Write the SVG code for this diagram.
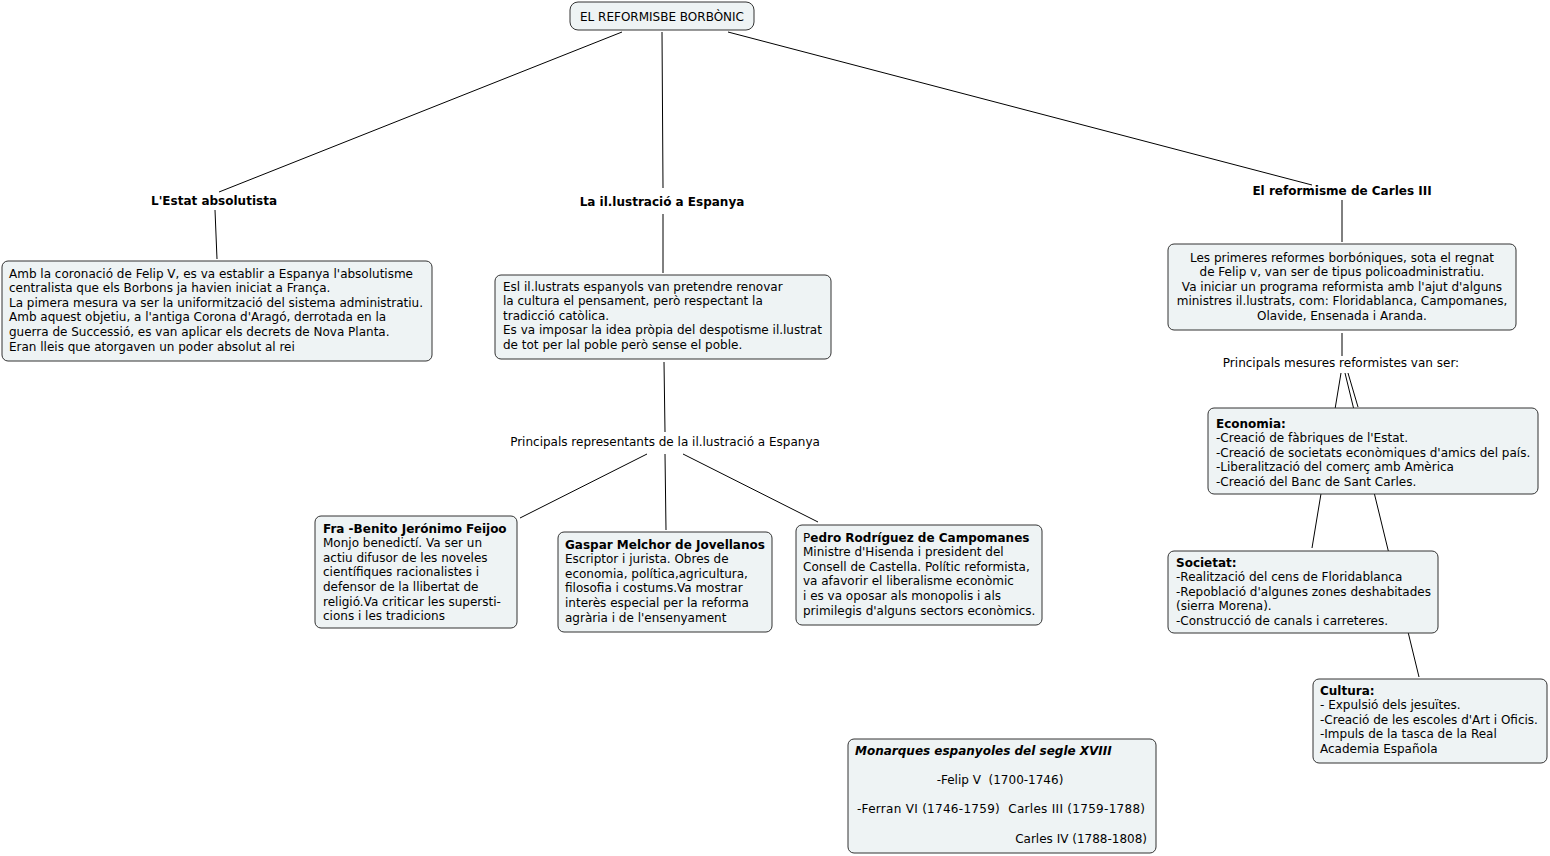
<svg xmlns="http://www.w3.org/2000/svg" width="1550" height="856" viewBox="0 0 1550 856">
<style>
.bg{fill:#ffffff}
.box{fill:#eef3f4;stroke:#333333;stroke-width:1}
.t{font-family:"DejaVu Sans","Verdana",sans-serif;font-size:12px;fill:#000}
.b{font-weight:bold}
.c{text-anchor:middle}
.ln{stroke:#000;stroke-width:1;fill:none}
</style>
<rect class="bg" x="0" y="0" width="1550" height="856"/>
<g id="connectors">
<line class="ln" x1="622" y1="32" x2="219" y2="192"/>
<line class="ln" x1="662" y1="32" x2="663" y2="188"/>
<line class="ln" x1="728" y1="32" x2="1312" y2="185"/>
<line class="ln" x1="215" y1="210" x2="217" y2="259"/>
<line class="ln" x1="663" y1="214" x2="663" y2="273"/>
<line class="ln" x1="664" y1="362" x2="665" y2="432"/>
<line class="ln" x1="647" y1="454" x2="520" y2="518"/>
<line class="ln" x1="665" y1="454" x2="666" y2="530"/>
<line class="ln" x1="683" y1="454" x2="818" y2="522"/>
<line class="ln" x1="1342" y1="200" x2="1342" y2="242"/>
<line class="ln" x1="1342" y1="333" x2="1342" y2="356"/>
<line class="ln" x1="1348" y1="373" x2="1358" y2="407"/>
<line class="ln" x1="1341" y1="373" x2="1312" y2="548"/>
<line class="ln" x1="1345" y1="373" x2="1419" y2="677"/>
</g>
<g id="n-top">
<rect class="box" x="570" y="2" width="184" height="28" rx="8"/>
<text class="t c" x="662" y="21">EL REFORMISBE BORBÒNIC</text>
</g>
<g id="n-estat">
<text class="t b c" x="214" y="205">L'Estat absolutista</text>
</g>
<g id="n-estat-box">
<rect class="box" x="2" y="261" width="430" height="100" rx="6"/>
<text class="t" x="9" y="277.5">Amb la coronació de Felip V, es va establir a Espanya l'absolutisme</text>
<text class="t" x="9" y="292.1">centralista que els Borbons ja havien iniciat a França.</text>
<text class="t" x="9" y="306.7">La pimera mesura va ser la uniformització del sistema administratiu.</text>
<text class="t" x="9" y="321.3">Amb aquest objetiu, a l'antiga Corona d'Aragó, derrotada en la</text>
<text class="t" x="9" y="335.9">guerra de Successió, es van aplicar els decrets de Nova Planta.</text>
<text class="t" x="9" y="350.5">Eran lleis que atorgaven un poder absolut al rei</text>
</g>
<g id="n-illus">
<text class="t b c" x="662" y="206">La il.lustració a Espanya</text>
</g>
<g id="n-illus-box">
<rect class="box" x="495" y="275" width="336" height="84" rx="6"/>
<text class="t" x="503" y="290.5">Esl il.lustrats espanyols van pretendre renovar</text>
<text class="t" x="503" y="305.1">la cultura el pensament, però respectant la</text>
<text class="t" x="503" y="319.7">tradicció catòlica.</text>
<text class="t" x="503" y="334.3">Es va imposar la idea pròpia del despotisme il.lustrat</text>
<text class="t" x="503" y="348.9">de tot per lal poble però sense el poble.</text>
</g>
<g id="n-repr">
<text class="t c" x="665" y="446">Principals representants de la il.lustració a Espanya</text>
</g>
<g id="n-feijoo">
<rect class="box" x="315" y="516" width="202" height="112" rx="6"/>
<text class="t b" x="323" y="532.5">Fra -Benito Jerónimo Feijoo</text>
<text class="t" x="323" y="547.1">Monjo benedictí. Va ser un</text>
<text class="t" x="323" y="561.7">actiu difusor de les noveles</text>
<text class="t" x="323" y="576.3">científiques racionalistes i</text>
<text class="t" x="323" y="590.9">defensor de la llibertat de</text>
<text class="t" x="323" y="605.5">religió.Va criticar les supersti-</text>
<text class="t" x="323" y="620.1">cions i les tradicions</text>
</g>
<g id="n-jovellanos">
<rect class="box" x="558" y="532" width="214" height="100" rx="6"/>
<text class="t b" x="565" y="548.5">Gaspar Melchor de Jovellanos</text>
<text class="t" x="565" y="563.1">Escriptor i jurista. Obres de</text>
<text class="t" x="565" y="577.7">economia, política,agricultura,</text>
<text class="t" x="565" y="592.3">filosofia i costums.Va mostrar</text>
<text class="t" x="565" y="606.9">interès especial per la reforma</text>
<text class="t" x="565" y="621.5">agrària i de l'ensenyament</text>
</g>
<g id="n-campomanes">
<rect class="box" x="796" y="525" width="246" height="100" rx="6"/>
<text class="t" x="803" y="541.5">P<tspan class="b">edro Rodríguez de Campomanes</tspan></text>
<text class="t" x="803" y="556.1">Ministre d'Hisenda i president del</text>
<text class="t" x="803" y="570.7">Consell de Castella. Polític reformista,</text>
<text class="t" x="803" y="585.3">va afavorir el liberalisme econòmic</text>
<text class="t" x="803" y="599.9">i es va oposar als monopolis i als</text>
<text class="t" x="803" y="614.5">primilegis d'alguns sectors econòmics.</text>
</g>
<g id="n-carles">
<text class="t b c" x="1342" y="195">El reformisme de Carles III</text>
</g>
<g id="n-carles-box">
<rect class="box" x="1168" y="244" width="348" height="86" rx="6"/>
<text class="t c" x="1342" y="261.5">Les primeres reformes borbóniques, sota el regnat</text>
<text class="t c" x="1342" y="276.1">de Felip v, van ser de tipus policoadministratiu.</text>
<text class="t c" x="1342" y="290.7">Va iniciar un programa reformista amb l'ajut d'alguns</text>
<text class="t c" x="1342" y="305.3">ministres il.lustrats, com: Floridablanca, Campomanes,</text>
<text class="t c" x="1342" y="319.9">Olavide, Ensenada i Aranda.</text>
</g>
<g id="n-mesures">
<text class="t c" x="1341" y="367">Principals mesures reformistes van ser:</text>
</g>
<g id="n-economia">
<rect class="box" x="1208" y="408" width="330" height="86" rx="6"/>
<text class="t b" x="1216" y="427.5">Economia:</text>
<text class="t" x="1216" y="442.1">-Creació de fàbriques de l'Estat.</text>
<text class="t" x="1216" y="456.7">-Creació de societats econòmiques d'amics del país.</text>
<text class="t" x="1216" y="471.3">-Liberalització del comerç amb Amèrica</text>
<text class="t" x="1216" y="485.9">-Creació del Banc de Sant Carles.</text>
</g>
<g id="n-societat">
<rect class="box" x="1168" y="551" width="270" height="82" rx="6"/>
<text class="t b" x="1176" y="566.5">Societat:</text>
<text class="t" x="1176" y="581.1">-Realització del cens de Floridablanca</text>
<text class="t" x="1176" y="595.7">-Repoblació d'algunes zones deshabitades</text>
<text class="t" x="1176" y="610.3">(sierra Morena).</text>
<text class="t" x="1176" y="624.9">-Construcció de canals i carreteres.</text>
</g>
<g id="n-cultura">
<rect class="box" x="1313" y="679" width="234" height="84" rx="6"/>
<text class="t b" x="1320" y="694.5">Cultura:</text>
<text class="t" x="1320" y="709.1">- Expulsió dels jesuïtes.</text>
<text class="t" x="1320" y="723.7">-Creació de les escoles d'Art i Oficis.</text>
<text class="t" x="1320" y="738.3">-Impuls de la tasca de la Real</text>
<text class="t" x="1320" y="752.9">Academia Española</text>
</g>
<g id="n-monarques">
<rect class="box" x="848" y="739" width="308" height="114" rx="6"/>
<text class="t b" x="855" y="754.5" font-style="italic">Monarques espanyoles del segle XVIII</text>
<text class="t c" x="1000" y="783.5" xml:space="preserve">-Felip V  (1700-1746)</text>
<text class="t" x="857" y="812.5" xml:space="preserve" textLength="288">-Ferran VI (1746-1759)  Carles III (1759-1788)</text>
<text class="t" x="1147" y="842.5" text-anchor="end">Carles IV (1788-1808)</text>
</g>
</svg>
